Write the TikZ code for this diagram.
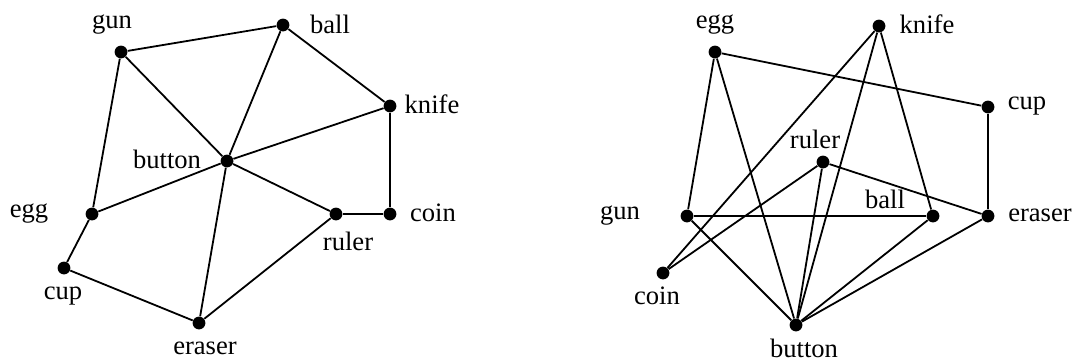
\documentclass[tikz,border=0pt]{standalone}
\usepackage{fontspec}
\setmainfont{Liberation Serif}
\usetikzlibrary{positioning}
\tikzset{
  vert/.style = {circle, fill=black, draw=none, inner sep=0pt, minimum size=6.4pt},
  tag/.style  = {inner sep=0pt, font=\fontsize{13.3}{15}\selectfont},
  link/.style = {line width=0.9pt, draw=black},
}
\begin{document}
\begin{tikzpicture}[x=0.5pt, y=-0.5pt]
\useasboundingbox (0,0) rectangle (1073,360);

% left graph
\node[vert] (lgun)    at (121,52)  {};
\node[vert] (lball)   at (283,25)  {};
\node[vert] (lknife)  at (390,106) {};
\node[vert] (lbutton) at (227,161) {};
\node[vert] (legg)    at (92,214)  {};
\node[vert] (lruler)  at (336,214) {};
\node[vert] (lcoin)   at (390,214) {};
\node[vert] (lcup)    at (64,268)  {};
\node[vert] (leraser) at (199,323) {};

\node[tag] (tlgun)    at (112,25)  {gun};
\node[tag] (tlball)   at (330,24)  {ball};
\node[tag] (tlknife)  at (432,104) {knife};
\node[tag] (tlbutton) at (167,159) {button};
\node[tag] (tlegg)    at (29,214)  {egg};
\node[tag] (tlruler)  at (348,241) {ruler};
\node[tag] (tlcoin)   at (433,213) {coin};
\node[tag] (tlcup)    at (63,296)  {cup};
\node[tag] (tleraser) at (205,348) {eraser};

\draw[link] (lgun) -- (lball);
\draw[link] (lball) -- (lknife);
\draw[link] (lknife) -- (lcoin);
\draw[link] (lcoin) -- (lruler);
\draw[link] (lruler) -- (leraser);
\draw[link] (leraser) -- (lcup);
\draw[link] (lcup) -- (legg);
\draw[link] (legg) -- (lgun);
\draw[link] (lbutton) -- (lgun);
\draw[link] (lbutton) -- (lball);
\draw[link] (lbutton) -- (lknife);
\draw[link] (lbutton) -- (lruler);
\draw[link] (lbutton) -- (leraser);
\draw[link] (lbutton) -- (legg);

% right graph
\node[vert] (regg)    at (715,52)  {};
\node[vert] (rknife)  at (879,26)  {};
\node[vert] (rcup)    at (988,107) {};
\node[vert] (rruler)  at (823,162) {};
\node[vert] (rgun)    at (687,216) {};
\node[vert] (rball)   at (933,216) {};
\node[vert] (reraser) at (988,216) {};
\node[vert] (rcoin)   at (663,273) {};
\node[vert] (rbutton) at (796,325) {};

\node[tag] (tregg)    at (715,25)  {egg};
\node[tag] (trknife)  at (927,24)  {knife};
\node[tag] (trcup)    at (1027,106) {cup};
\node[tag] (trruler)  at (815,139) {ruler};
\node[tag] (trgun)    at (620,216) {gun};
\node[tag] (trball)   at (885,199) {ball};
\node[tag] (treraser) at (1040,215) {eraser};
\node[tag] (trcoin)   at (657,296) {coin};
\node[tag] (trbutton) at (804,348) {button};

\draw[link] (regg) -- (rcup);
\draw[link] (rcup) -- (reraser);
\draw[link] (regg) -- (rgun);
\draw[link] (regg) -- (rbutton);
\draw[link] (rgun) -- (rball);
\draw[link] (rgun) -- (rbutton);
\draw[link] (rknife) -- (rcoin);
\draw[link] (rknife) -- (rbutton);
\draw[link] (rknife) -- (rball);
\draw[link] (rruler) -- (rcoin);
\draw[link] (rruler) -- (reraser);
\draw[link] (rruler) -- (rbutton);
\draw[link] (rbutton) -- (rball);
\draw[link] (rbutton) -- (reraser);

\end{tikzpicture}
\end{document}
